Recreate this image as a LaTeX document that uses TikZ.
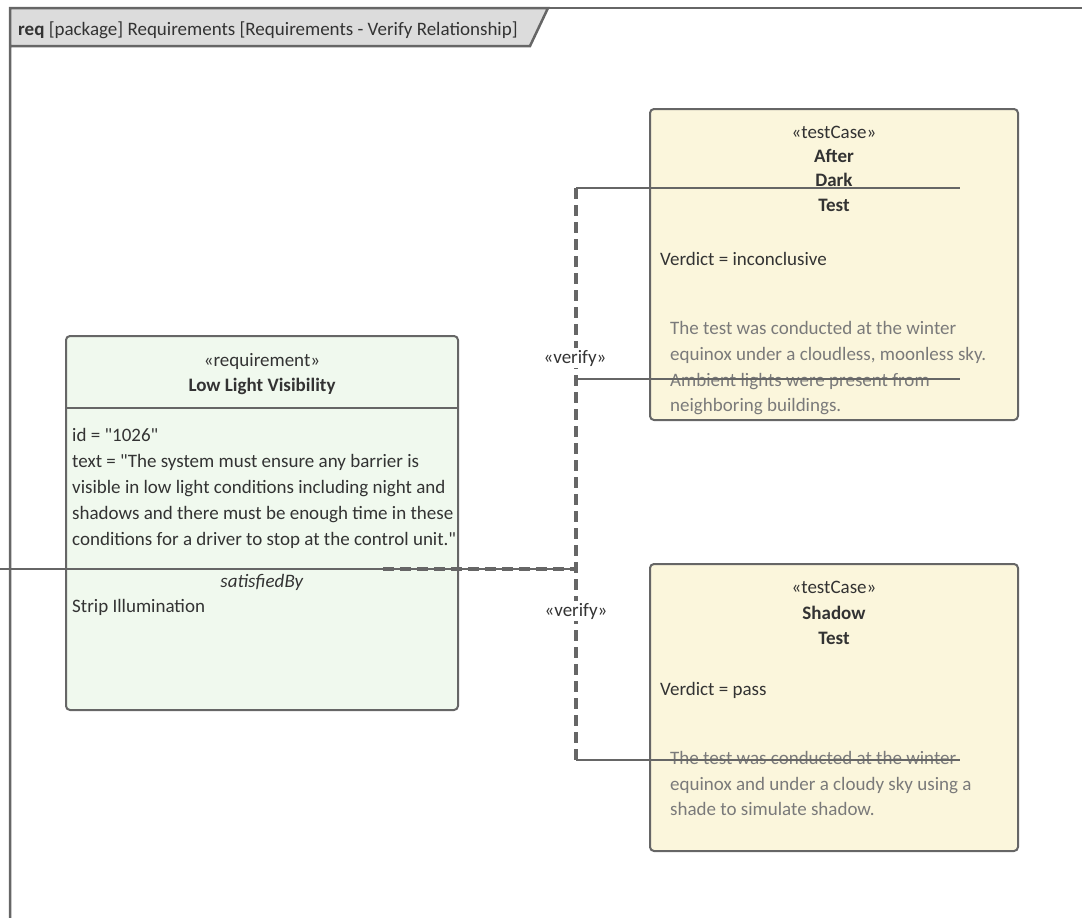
\documentclass[tikz,border=0pt]{standalone}
\usepackage{fontspec}
\setmainfont{Carlito}[Ligatures=TeXOff]
\usetikzlibrary{calc}
\definecolor{lineC}{HTML}{666666}
\definecolor{txtC}{HTML}{333333}
\definecolor{noteC}{HTML}{7A7A7A}
\definecolor{reqFill}{HTML}{F0F9EE}
\definecolor{testFill}{HTML}{FBF6DC}
\definecolor{tabFill}{HTML}{DCDCDC}
\tikzset{
  box/.style={draw=lineC, line width=2pt, rounded corners=4pt},
  txt/.style={anchor=base, inner sep=0pt, text=txtC, font=\fontsize{19}{22}\selectfont},
  ltxt/.style={txt, anchor=base west},
  note/.style={ltxt, text=noteC},
  conn/.style={draw=lineC, line width=2pt},
  dep/.style={draw=lineC, line width=4pt, dash pattern=on 11pt off 6pt},
  lbl/.style={txt, fill=white, inner sep=2pt}
}
\begin{document}
\begin{tikzpicture}[x=1pt,y=-1pt]
\useasboundingbox (0,0) rectangle (1082,918);
% frame
\draw[lineC, line width=2.5pt, fill=tabFill] (10,918) -- (10,8) -- (548,8) -- (530,46) -- (10,46);
\draw[lineC, line width=2.5pt] (548,8) -- (1082,8);
\node[ltxt] (title) at (18,35) {\textbf{req} [package] Requirements [Requirements - Verify Relationship]};

% requirement box
\path[box, fill=reqFill] (66,336) rectangle (458,710);
\draw[lineC, line width=2pt] (66,408) -- (458,408);
\node[txt] (rst) at (262,366) {«requirement»};
\node[txt] (rname) at (262,391) {\textbf{Low Light Visibility}};
\node[ltxt] (r1) at (72,441) {id = "1026"};
\node[ltxt] (r2) at (72,467) {text = "The system must ensure any barrier is};
\node[ltxt] (r3) at (72,493) {visible in low light conditions including night and};
\node[ltxt] (r4) at (72,519) {shadows and there must be enough time in these};
\node[ltxt] (r5) at (72,545) {conditions for a driver to stop at the control unit."};
\node[txt] (rsb) at (262,587) {\textit{satisfiedBy}};
\node[ltxt] (r6) at (72,612) {Strip Illumination};

% test case 1
\path[box, fill=testFill] (650,109) rectangle (1018,420);
\node[txt] (t1st) at (834,138) {«testCase»};
\node[txt] (t1a) at (834,162) {\textbf{After}};
\node[txt] (t1b) at (834,186) {\textbf{Dark}};
\node[txt] (t1c) at (834,211) {\textbf{Test}};
\node[ltxt] (t1v) at (660,265) {Verdict = inconclusive};
\node[note] (t1n1) at (670,334) {The test was conducted at the winter};
\node[note] (t1n2) at (670,360) {equinox under a cloudless, moonless sky.};
\node[note] (t1n3) at (670,386) {Ambient lights were present from};
\node[note] (t1n4) at (670,411) {neighboring buildings.};

% test case 2
\path[box, fill=testFill] (650,564) rectangle (1018,851);
\node[txt] (t2st) at (834,593) {«testCase»};
\node[txt] (t2a) at (834,619) {\textbf{Shadow}};
\node[txt] (t2b) at (834,644) {\textbf{Test}};
\node[ltxt] (t2v) at (660,695) {Verdict = pass};
\node[note] (t2n1) at (670,764) {The test was conducted at the winter};
\node[note] (t2n2) at (670,790) {equinox and under a cloudy sky using a};
\node[note] (t2n3) at (670,815) {shade to simulate shadow.};

% connector points
\coordinate (lft) at (0,569);
\coordinate (dstart) at (383,569);
\coordinate (j) at (576,569);
\coordinate (vtop) at (576,188);
\coordinate (vbot) at (576,760);
\coordinate (e1) at (960,188);
\coordinate (e2) at (960,379);
\coordinate (e3) at (960,760);
\coordinate (v2) at (576,379);

% connectors
\draw[conn] (lft) -- (j);
\draw[dep] (dstart) -- (j);
\draw[dep] (vtop) -- (vbot);
\draw[conn] (vtop) -- (e1);
\draw[conn] (v2) -- (e2);
\draw[conn] (vbot) -- (e3);
\node[lbl] (l1) at (575,363) {«verify»};
\node[lbl] (l2) at (576,616) {«verify»};
\end{tikzpicture}
\end{document}
